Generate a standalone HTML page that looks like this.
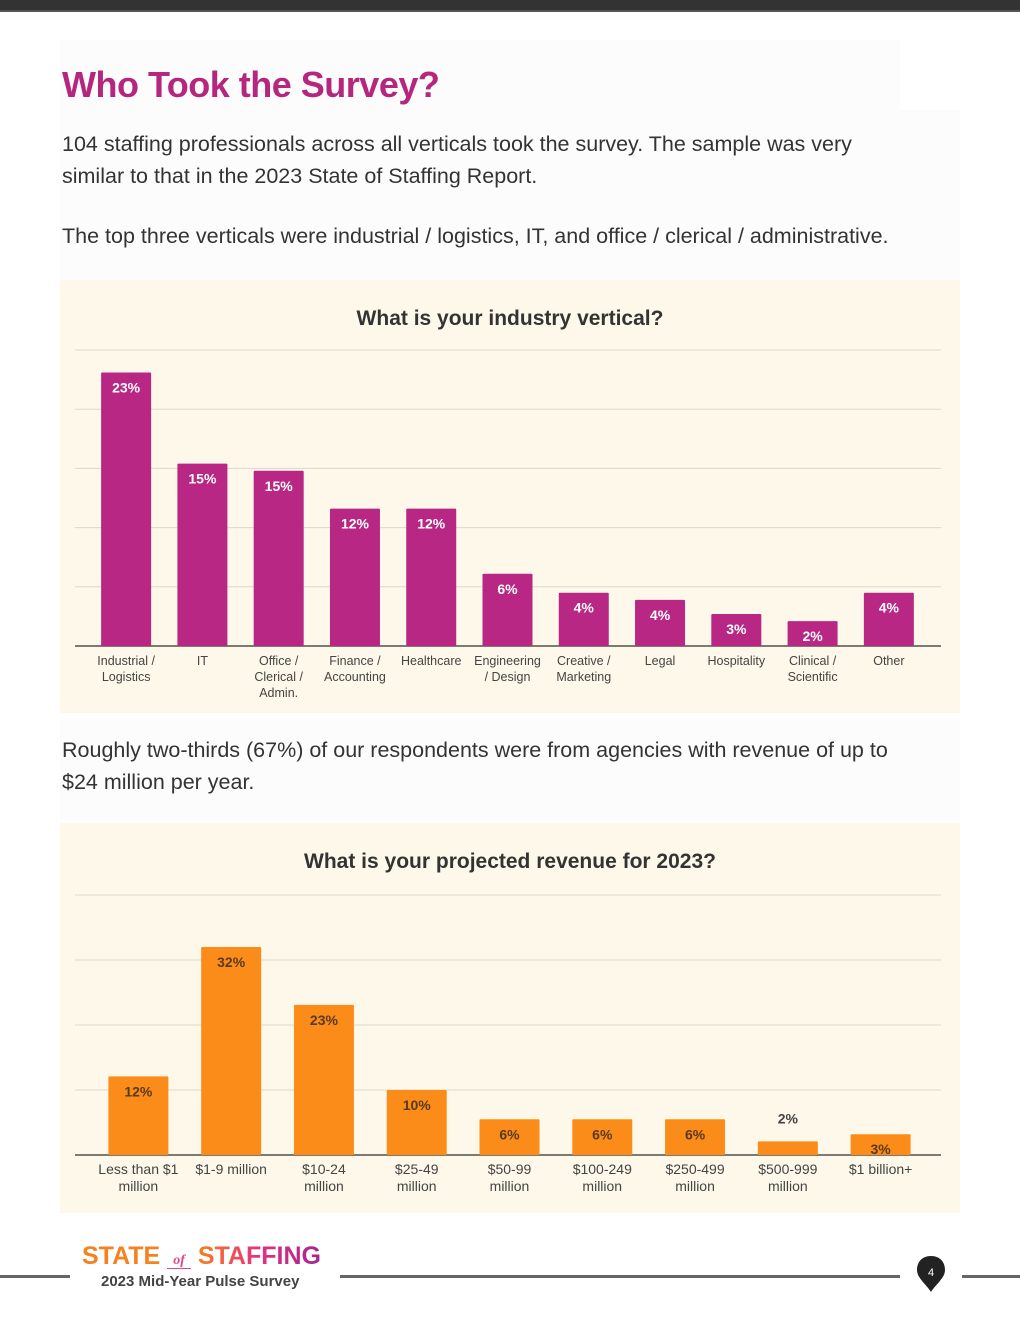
<!DOCTYPE html>
<html><head><meta charset="utf-8">
<style>
html,body{margin:0;padding:0;background:#fff;}
body{width:1020px;height:1320px;position:relative;overflow:hidden;font-family:"Liberation Sans",sans-serif;}
.topbar{position:absolute;left:0;top:0;width:1020px;height:10px;background:#333;border-bottom:2px solid #555;}
.panel{position:absolute;background:#fcfcfc;}
h1{position:absolute;left:62px;top:64px;margin:0;font-size:36px;font-weight:bold;color:#b5267f;letter-spacing:-0.5px;}
.p{position:absolute;left:62px;font-size:21.5px;color:#333;line-height:32px;margin:0;width:900px;}
.chartbox{position:absolute;left:60px;width:900px;background:#fdf8e9;}
svg text{font-family:"Liberation Sans",sans-serif;}
</style></head><body>
<div class="topbar"></div>
<div class="panel" style="left:60px;top:40px;width:840px;height:70px"></div>
<div class="panel" style="left:60px;top:110px;width:900px;height:170px"></div>
<h1>Who Took the Survey?</h1>
<p class="p" style="top:128px;width:850px">104 staffing professionals across all verticals took the survey. The sample was very similar to that in the 2023 State of Staffing Report.</p>
<p class="p" style="top:220px">The top three verticals were industrial / logistics, IT, and office / clerical / administrative.</p>

<div class="chartbox" style="top:280px;height:433px"></div>
<svg id="c1" style="position:absolute;left:0;top:0" width="1020" height="720"></svg>

<div class="panel" style="left:60px;top:720px;width:900px;height:100px"></div>
<p class="p" style="top:734px;width:860px">Roughly two-thirds (67%) of our respondents were from agencies with revenue of up to $24 million per year.</p>

<div class="chartbox" style="top:823px;height:390px"></div>
<svg id="c2" style="position:absolute;left:0;top:0" width="1020" height="1220"></svg>

<div style="position:absolute;left:0;top:1275px;width:70px;height:3px;background:#666"></div>
<div style="position:absolute;left:340px;top:1275px;width:560px;height:3px;background:#666"></div>
<div style="position:absolute;left:962px;top:1275px;width:58px;height:3px;background:#666"></div>
<div style="position:absolute;left:82px;top:1242px;font-size:25px;font-weight:bold;letter-spacing:0px"><span style="color:#f5821f">STATE</span> <span style="font-family:'Liberation Serif',serif;font-style:italic;font-size:14px;color:#e0468a;border-bottom:1px solid #e0468a;padding:0 6px">of</span> <span style="background:linear-gradient(90deg,#f5821f,#e82d7f,#a3278f);-webkit-background-clip:text;color:transparent">STAFFING</span></div>
<div style="position:absolute;left:101px;top:1273px;font-size:15px;color:#444;font-weight:bold">2023 Mid-Year Pulse Survey</div>
<svg style="position:absolute;left:914px;top:1254px" width="34" height="40"><path d="M17 2 C26 2 31 8 31 16 C31 24 22 30 17 38 C12 30 3 24 3 16 C3 8 8 2 17 2Z" fill="#222"/><text x="17" y="22" fill="#fff" font-size="11" text-anchor="middle" font-family="Liberation Serif,serif">4</text></svg>

<script>
const cats1=[["Industrial /","Logistics"],["IT"],["Office /","Clerical /","Admin."],["Finance /","Accounting"],["Healthcare"],["Engineering","/ Design"],["Creative /","Marketing"],["Legal"],["Hospitality"],["Clinical /","Scientific"],["Other"]];
const vals1=[23.1,15.4,14.8,11.6,11.6,6.1,4.5,3.9,2.7,2.1,4.5];
const labels1=["23%","15%","15%","12%","12%","6%","4%","4%","3%","2%","4%"];
const ticks1=[0,5,10,15,20,25];
const cats2=[["Less than $1","million"],["$1-9 million"],["$10-24","million"],["$25-49","million"],["$50-99","million"],["$100-249","million"],["$250-499","million"],["$500-999","million"],["$1 billion+"]];
const vals2=[12.1,32,23.1,10,5.5,5.5,5.5,2.1,3.2];
const labels2=["12%","32%","23%","10%","6%","6%","6%","2%","3%"];
const ticks2=[0,10,20,30,40];
const NS="http://www.w3.org/2000/svg";
function mk(svg,tag,attrs,txt){const e=document.createElementNS(NS,tag);for(const k in attrs)e.setAttribute(k,attrs[k]);if(txt!==undefined)e.textContent=txt;svg.appendChild(e);return e;}
function chart(svg,o){
  const y=v=>o.base-(v/o.max)*(o.base-o.top);
  const slot=(o.x1-o.x0)/o.cats.length;
  const x=i=>o.x0+slot*(i+0.5);
  let t=mk(svg,"text",{x:510,y:o.titleY,"text-anchor":"middle","font-size":21,"font-weight":"bold",fill:"#333"},o.title);
  
  
  o.ticks.forEach(v=>{const l=mk(svg,"line",{x1:75,x2:941,y1:y(v),y2:y(v),stroke:v===0?"#7d7a72":"#dcd8cc","stroke-width":v===0?2:1});
    
    });
  o.vals.forEach((v,i)=>{
    const r=mk(svg,"rect",{x:x(i)-o.bw/2,y:y(v),width:o.bw,height:o.base-y(v),fill:o.color,rx:1});
    
    
    const inside=(o.base-y(v))>18;
    const lb=mk(svg,"text",{x:x(i),y:inside?y(v)+20:y(v)-18,"text-anchor":"middle","font-size":14,"font-weight":"bold",fill:inside?o.lblColor:"#444"},o.labels[i]);
    
    
    o.cats[i].forEach((s,j)=>{const c=mk(svg,"text",{x:x(i),y:o.base+19+j*o.lh,"text-anchor":"middle","font-size":o.fs,fill:"#444"},s);
      
      });
  });
}
chart(document.getElementById("c1"),{title:"What is your industry vertical?",titleY:325,cats:cats1,vals:vals1,labels:labels1,ticks:ticks1,max:25,base:646,top:350,x0:88,x1:927,bw:50,color:"#b72783",lblColor:"#fff",fs:12.5,lh:16});
chart(document.getElementById("c2"),{title:"What is your projected revenue for 2023?",titleY:868,cats:cats2,vals:vals2,labels:labels2,ticks:ticks2,max:40,base:1155,top:895,x0:92,x1:927,bw:60,color:"#fb8c1a",lblColor:"#5a3a1a",fs:14,lh:17});
</script>
</body></html>
